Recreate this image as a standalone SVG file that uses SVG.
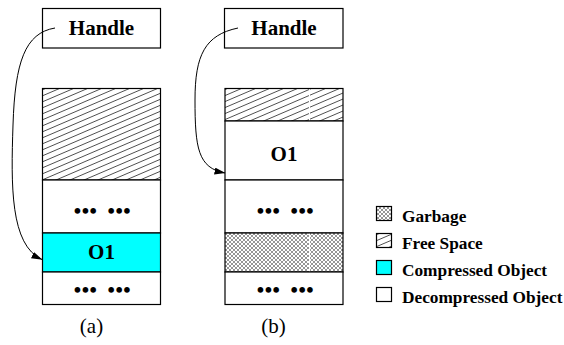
<svg xmlns="http://www.w3.org/2000/svg" width="564" height="345" viewBox="0 0 564 345">
<style>
.box{fill:#fff;stroke:#000;stroke-width:1.2}
.hatch{fill:url(#hatch);stroke:#000;stroke-width:1.2}
.garb{fill:url(#garb);stroke:#000;stroke-width:1.2}
.cyan{fill:#00ffff;stroke:#000;stroke-width:1.2}
.t{font-family:"Liberation Serif","Times New Roman",serif;font-weight:bold;fill:#000}
.big{font-size:21px;text-anchor:middle}
.dots{font-size:21px;text-anchor:middle;letter-spacing:0.6px;word-spacing:4px}
.leg{font-size:17.3px}
.lab{font-family:"Liberation Serif","Times New Roman",serif;font-size:21px;text-anchor:middle;fill:#000}
.conn{fill:none;stroke:#000;stroke-width:1}
</style>
<defs>
<pattern id="hatch" patternUnits="userSpaceOnUse" x="0" y="0" width="14" height="6">
<rect width="14" height="6" fill="#fff"/>
<path d="M-1,6.43 L15,-0.43 M-1,12.43 L15,5.57 M-1,0.43 L15,-6.43" stroke="#222" stroke-width="0.8"/>
</pattern>
<pattern id="garb" patternUnits="userSpaceOnUse" x="0" y="0" width="4" height="4">
<rect width="4" height="4" fill="#fff"/>
<path d="M0,0 L4,4 M4,0 L0,4" stroke="#8a8a8a" stroke-width="0.9"/>
</pattern>
<marker id="ah" markerWidth="11" markerHeight="7" refX="10.5" refY="3.5" orient="auto" markerUnits="userSpaceOnUse">
<path d="M0,0 L11,3.5 L0,7 Z" fill="#000"/>
</marker>
</defs>

<g id="handle-a">
<rect class="box" x="42.5" y="8.5" width="118" height="39.5"/>
<text class="t big" x="101.5" y="35">Handle</text>
</g>

<g id="memory-a">
<rect class="hatch" x="42.5" y="88.5" width="118" height="91.5"/>
<rect class="box" x="42.5" y="180" width="118" height="53"/>
<text class="t dots" x="102.5" y="218">••• •••</text>
<g id="o1-a">
<rect class="cyan" x="42.5" y="233" width="118" height="39"/>
<text class="t big" x="101.5" y="259">O1</text>
</g>
<rect class="box" x="42.5" y="272" width="118" height="32.5"/>
<text class="t dots" x="102.5" y="296.5">••• •••</text>
</g>

<g id="handle-b">
<rect class="box" x="224.5" y="8.5" width="118.5" height="39.5"/>
<text class="t big" x="284" y="35">Handle</text>
</g>

<g id="memory-b">
<rect class="hatch" x="225" y="88.5" width="118" height="32.5"/>
<rect x="309" y="89.2" width="1" height="31.2" fill="#fff"/>
<g id="o1-b">
<rect class="box" x="225" y="121" width="118" height="59"/>
<text class="t big" x="284" y="161">O1</text>
</g>
<rect class="box" x="225" y="180" width="118" height="53"/>
<text class="t dots" x="285.5" y="218">••• •••</text>
<rect class="garb" x="225" y="233" width="118" height="39"/>
<rect x="309" y="233.7" width="1" height="37.6" fill="#fff"/>
<rect class="box" x="225" y="272" width="118" height="32.5"/>
<text class="t dots" x="285.5" y="296.5">••• •••</text>
</g>

<g id="connectors">
<path class="conn" d="M55,28 C25,33 15,62 13,125 C11,185 10,245 42,259.5" marker-end="url(#ah)"/>
<path class="conn" d="M238,28 C205,35 195,55 195,100 C195,148 198,168 225,173" marker-end="url(#ah)"/>
</g>

<g id="caption-a"><text class="lab" x="91.5" y="333">(a)</text></g>
<g id="caption-b"><text class="lab" x="273.5" y="333">(b)</text></g>

<g id="legend">
<g id="legend-garbage">
<rect class="garb" x="376.5" y="206.5" width="15" height="14"/>
<text class="t leg" x="402" y="221.5">Garbage</text>
</g>
<g id="legend-free">
<rect class="hatch" x="376.5" y="233.5" width="15" height="14"/>
<text class="t leg" x="402" y="248.5">Free Space</text>
</g>
<g id="legend-compressed">
<rect class="cyan" x="376.5" y="260.5" width="15" height="14"/>
<text class="t leg" x="402" y="275.5">Compressed Object</text>
</g>
<g id="legend-decompressed">
<rect class="box" x="376.5" y="287.5" width="15" height="14"/>
<text class="t leg" x="402" y="302.5">Decompressed Object</text>
</g>
</g>
</svg>
